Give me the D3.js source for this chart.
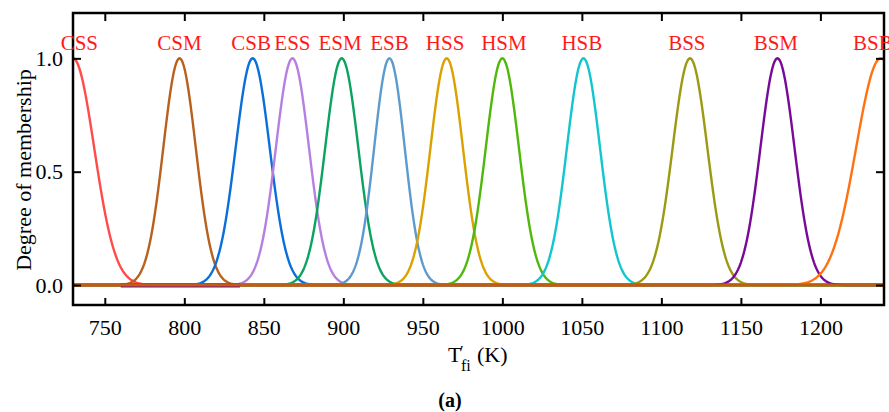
<!DOCTYPE html>
<html>
<head>
<meta charset="utf-8">
<script src="https://cdn.jsdelivr.net/npm/d3@7"></script>
<style>
  body { margin: 0; background: #fff; }
  svg text { font-family: "Liberation Serif", "Times New Roman", serif; }
</style>
</head>
<body>
<div id="chart"></div>
<script>
// membership functions (gaussian: center, sigma in K)
var names   = ["CSS", "CSM", "CSB", "ESS", "ESM", "ESB", "HSS", "HSM", "HSB", "BSS", "BSM", "BSB"];
var centers = [730, 797, 843, 868, 899, 929, 965, 1000, 1051, 1118, 1173, 1238];
var sigmas  = [13.3, 10.2, 10.7, 10.4, 10.4, 9.6, 10.2, 10.4, 10.4, 10.9, 10.7, 15.5];
var colors  = ["#ff4b4b", "#b8601c", "#0a6edb", "#b77fe0", "#0aa35f", "#5d9bcf",
               "#dba100", "#4fb80a", "#12c6cf", "#9b9a12", "#780a98", "#ff7212"];
var labelX  = [734, 797, 842, 868, 898, 929, 964, 1001, 1050, 1116, 1172, 1233];

var xTicks = [750, 800, 850, 900, 950, 1000, 1050, 1100, 1150, 1200];
var yTicks = [0, 0.5, 1.0];

// zero line segment of another curve peeking out under the baseline
var purpleBase = [760, 835];

var serif = "'Liberation Serif', 'Times New Roman', serif";

var margin = {top: 13, right: 5, bottom: 107, left: 73},
    W = 889, H = 412,
    width = W - margin.left - margin.right,
    height = H - margin.top - margin.bottom;

var x = d3.scaleLinear().domain([730, 1240]).range([0, width]);
var y = d3.scaleLinear().domain([-0.088, 1.2]).range([height, 0]);

var svg = d3.select("#chart").append("svg")
    .attr("width", W)
    .attr("height", H)
    .attr("font-family", serif);

var g = svg.append("g")
    .attr("transform", "translate(" + margin.left + "," + margin.top + ")");

g.append("clipPath").attr("id", "clip")
  .append("rect").attr("width", width).attr("height", height);

var plot = g.append("g").attr("clip-path", "url(#clip)");

var grid = d3.range(730, 1240.01, 0.5);

var line = d3.line()
    .x(function(d) { return x(d[0]); })
    .y(function(d) { return y(d[1]); });

names.forEach(function(n, i) {
  var pts = grid.map(function(t) {
    var z = (t - centers[i]) / sigmas[i];
    return [t, Math.exp(-0.5 * z * z)];
  });
  plot.append("path")
      .datum(pts)
      .style("fill", "none")
      .style("stroke", colors[i])
      .style("stroke-width", "2.4px")
      .attr("d", line);
});

plot.append("path")
    .datum(purpleBase.map(function(t) { return [t, 0]; }))
    .style("fill", "none")
    .style("stroke", "#780a98")
    .style("stroke-width", "4px")
    .attr("transform", "translate(0,0.5)")
    .attr("d", line);

// zero line
plot.append("path")
    .datum([[730, 0], [1240, 0]])
    .style("fill", "none")
    .style("stroke", "#c25c0e")
    .style("stroke-width", "3px")
    .attr("d", line);

// axes, ticks pointing inward
function styleAxis(sel) {
  sel.attr("font-family", serif).attr("font-size", 22);
  sel.select(".domain").remove();
  sel.selectAll("line").attr("stroke", "#000").attr("stroke-width", 2);
  sel.selectAll("text").attr("fill", "#000")
     .style("font-family", serif)
     .style("font-size", "22px");
}

g.append("g")
    .attr("transform", "translate(0," + height + ")")
    .call(d3.axisBottom(x).tickValues(xTicks).tickSizeInner(-7).tickSizeOuter(0)
      .tickPadding(14.5).tickFormat(d3.format("d")))
    .call(styleAxis);

g.append("g")
    .call(d3.axisTop(x).tickValues(xTicks).tickSizeInner(-8).tickSizeOuter(0).tickFormat(""))
    .call(styleAxis);

g.append("g")
    .call(d3.axisLeft(y).tickValues(yTicks).tickSizeInner(-8).tickSizeOuter(0)
      .tickPadding(10).tickFormat(d3.format(".1f")))
    .call(styleAxis);

g.append("g")
    .attr("transform", "translate(" + width + ",0)")
    .call(d3.axisRight(y).tickValues(yTicks).tickSizeInner(-8).tickSizeOuter(0).tickFormat(""))
    .call(styleAxis);

// frame
g.append("rect")
    .attr("width", width)
    .attr("height", height)
    .style("fill", "none")
    .style("stroke", "#000")
    .style("stroke-width", "2.5px");

// curve labels
g.selectAll(".lab")
    .data(names)
  .enter().append("text")
    .attr("x", function(d, i) { return x(labelX[i]); })
    .attr("y", 37)
    .attr("text-anchor", "middle")
    .style("fill", "#ff1a1a")
    .style("font-size", "21px")
    .text(function(d) { return d; });

// axis titles
svg.append("text")
    .attr("transform", "translate(31,170) rotate(-90)")
    .attr("text-anchor", "middle")
    .style("font-size", "22px")
    .text("Degree of membership");

var xt = svg.append("g");
xt.append("text").attr("x", 448).attr("y", 362).style("font-size", "22px").text("T");
xt.append("text").attr("x", 460).attr("y", 357).style("font-size", "16px").text("\u2032");
xt.append("text").attr("x", 461).attr("y", 371).style("font-size", "16px").text("fi");
xt.append("text").attr("x", 477).attr("y", 362).style("font-size", "22px").text("(K)");

svg.append("text")
    .attr("x", 450)
    .attr("y", 407)
    .attr("text-anchor", "middle")
    .style("font-size", "20px")
    .style("font-weight", "bold")
    .text("(a)");
</script>
</body>
</html>
